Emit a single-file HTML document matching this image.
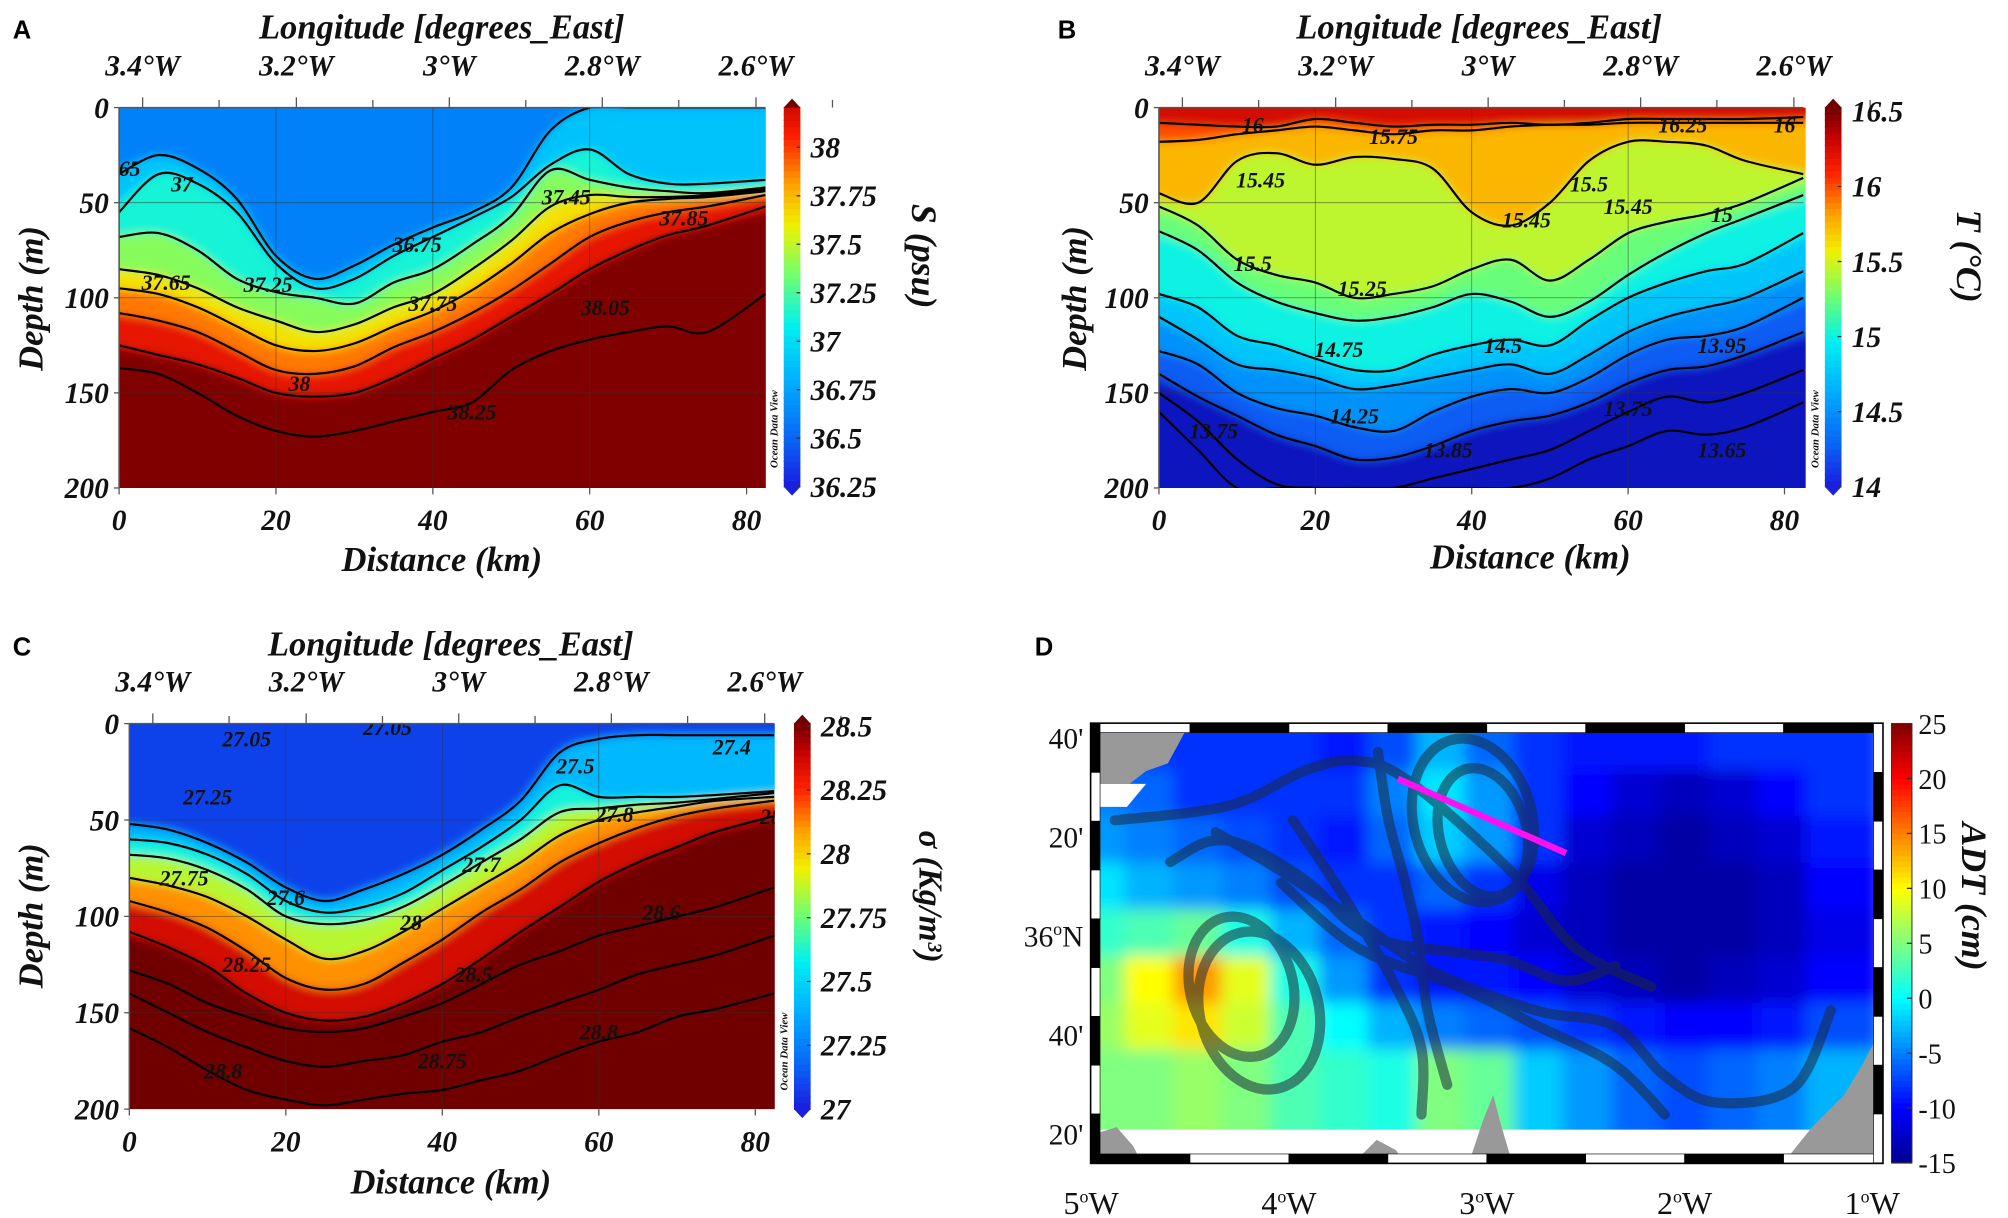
<!DOCTYPE html>
<html><head><meta charset="utf-8"><style>
html,body{margin:0;padding:0;background:#fff;}
svg{display:block;}
.t{font-family:"Liberation Serif",serif;font-style:italic;font-weight:bold;fill:#111;}
.r{font-family:"Liberation Serif",serif;fill:#111;}
.l{font-family:"Liberation Sans",sans-serif;font-weight:bold;fill:#000;}
</style></head><body>
<svg id="fig" xmlns="http://www.w3.org/2000/svg" width="2008" height="1218" viewBox="0 0 1568 951" preserveAspectRatio="none">
<defs>
<filter id="blur" x="-5%" y="-5%" width="110%" height="110%"><feGaussianBlur stdDeviation="3.5"/></filter>
<filter id="blurD" x="-5%" y="-5%" width="110%" height="110%"><feGaussianBlur stdDeviation="6"/></filter>
<clipPath id="clipA"><rect x="93" y="84" width="505" height="297"/></clipPath>
<clipPath id="clipB"><rect x="905" y="84" width="505" height="297"/></clipPath>
<clipPath id="clipC"><rect x="101" y="565" width="504" height="301"/></clipPath>
<clipPath id="clipD"><rect x="859" y="572" width="604" height="329"/></clipPath>
</defs>
<text class="l" x="10" y="30" font-size="20">A</text>
<text class="l" x="826" y="30" font-size="20">B</text>
<text class="l" x="10" y="512" font-size="20">C</text>
<text class="l" x="808" y="512" font-size="20">D</text>
<text class="t" x="345" y="30" font-size="27" text-anchor="middle">Longitude [degrees_East]</text>
<text class="t" x="1155" y="30" font-size="27" text-anchor="middle">Longitude [degrees_East]</text>
<text class="t" x="352" y="512" font-size="27" text-anchor="middle">Longitude [degrees_East]</text>
<text class="t" x="345" y="446" font-size="27" text-anchor="middle">Distance (km)</text>
<text class="t" x="1195" y="444" font-size="27" text-anchor="middle">Distance (km)</text>
<text class="t" x="352" y="932" font-size="27" text-anchor="middle">Distance (km)</text>
<text class="t" font-size="27" text-anchor="middle" transform="translate(33,233) rotate(-90)">Depth (m)</text>
<text class="t" font-size="27" text-anchor="middle" transform="translate(848,233) rotate(-90)">Depth (m)</text>
<text class="t" font-size="27" text-anchor="middle" transform="translate(33,715) rotate(-90)">Depth (m)</text>
<text class="t" font-size="28" text-anchor="middle" transform="translate(712,200) rotate(90)">S (psu)</text>
<text class="t" font-size="28" text-anchor="middle" transform="translate(1528,200) rotate(90)">T (°C)</text>
<text class="t" font-size="26" text-anchor="middle" transform="translate(718,700) rotate(90)">σ (Kg/m³)</text>
<text class="t" font-size="28" text-anchor="middle" transform="translate(1532,700) rotate(90)">ADT (cm)</text>
<g id="root"></g>
</svg>
<script>
// ---------- data ----------
const dist = [0,5,10,15,20,25,30,35,40,45,50,55,60,65,70,75,82.4];
const lonTickKm = [3.0,22.6,42.1,61.6,81.2];
const lonTickLabels = ["3.4°W","3.2°W","3°W","2.8°W","2.6°W"];
const depthTicks = [0,50,100,150,200];
const distTicks = [0,20,40,60,80];

// Panel A salinity
const levelsA = [36.75,37.0,37.25,37.5,37.75,38.0,38.25];
const depthsA = [
 [35,25,32,48,78,90,83,72,63,55,42,12,0,0,0,0,0],
 [55,35,40,55,82,95,90,78,68,58,47,30,22,35,40,40,38],
 [68,66,75,90,97,100,103,92,85,72,57,33,38,42,44,45,42],
 [85,88,95,105,112,118,114,105,98,85,70,52,46,47,47,46,43],
 [95,98,105,115,125,128,124,115,107,96,82,66,56,50,48,47,44],
 [108,112,118,128,138,140,136,126,118,108,96,82,68,60,55,52,46],
 [125,130,135,142,150,152,150,142,132,122,110,98,85,75,67,62,52]];
const extraA = [[137,140,150,162,170,173,170,165,160,155,138,128,122,118,115,118,98]];
const labelsA = [["36.75",38,72],["37",8,40],["37.25",19,93],["37.65",6,92],["37.45",57,47],["37.75",40,103],["37.85",72,58],["38.05",62,105],["38",23,145],["38.25",45,160],[".65",1,32]];
const cbTicksA = [36.25,36.5,36.75,37,37.25,37.5,37.75,38];

// Panel B temperature
const levelsB = [16.0,15.75,15.45,15.25,15.0,14.75,14.5,14.25,14.0];
const depthsB = [
 [8,9,10,10,6,8,10,9,9,8,9,8,6,6,6,6,5],
 [18,17,14,12,10,12,14,12,12,10,9,9,8,8,8,8,8],
 [45,50,28,24,30,26,27,32,55,62,50,28,18,18,20,28,35],
 [52,62,80,88,92,100,98,94,85,80,91,80,66,60,56,50,37],
 [65,75,92,102,108,112,110,105,98,102,110,102,88,76,66,58,46],
 [98,105,120,125,132,138,138,130,125,122,125,112,100,92,86,82,66],
 [110,122,135,138,142,148,146,142,138,135,140,130,118,110,105,100,86],
 [128,135,150,158,162,168,170,160,152,148,150,142,130,122,120,115,100],
 [140,152,162,172,178,185,184,178,170,165,162,155,145,138,136,130,118]];
const extraB = [[150,165,185,198,200,200,200,195,190,185,180,170,160,152,155,150,138],[160,180,200,200,200,200,200,200,200,200,195,185,178,170,172,168,155]];
const labelsB = [["16",12,9],["15.75",30,15],["16.25",67,9],["16",80,9],["15.45",13,38],["15.5",12,82],["15.25",26,95],["15.45",47,59],["15.5",55,40],["15.45",60,52],["15",72,56],["14.75",23,127],["14.5",44,125],["14.25",25,162],["13.95",72,125],["13.75",60,158],["13.85",37,180],["13.65",72,180],["13.75",7,170]];
const cbTicksB = [14,14.5,15,15.5,16,16.5];

// Panel C density
const levelsC = [27.3,27.5,27.75,28.0,28.25,28.45];
const depthsC = [
 [52,55,62,72,85,92,86,78,68,55,40,15,8,6,6,6,6],
 [60,62,68,78,92,98,95,88,76,64,50,32,38,38,38,37,35],
 [68,70,76,86,100,104,102,95,84,72,60,46,44,42,41,39,36],
 [80,84,90,100,112,122,118,108,96,84,72,58,50,46,43,40,38],
 [92,98,106,118,132,138,135,124,112,98,86,72,62,54,48,44,40],
 [108,116,126,140,150,154,152,145,135,122,108,95,82,72,64,56,48]];
const extraC = [[128,135,145,152,158,160,158,152,145,135,125,118,110,105,100,95,85],[140,150,160,168,175,178,175,172,165,160,152,145,138,130,125,120,110],[158,168,180,190,195,198,195,192,190,185,180,172,165,160,152,148,140]];
const labelsC = [["27.05",15,8],["27.05",33,2],["27.4",77,12],["27.25",10,38],["27.5",57,22],["27.8",62,47],["27.7",45,73],["27.6",20,90],["27.75",7,80],["28",36,103],["28.25",15,125],["28.5",44,130],["28.6",68,98],["28.8",60,160],["28.75",40,175],["28.8",12,180],["28",82,48]];
const cbTicksC = [27,27.25,27.5,27.75,28,28.25,28.5];

// Panel D ADT grid (rows north->south, cols west->east)
const adtGrid = [
 [-8,-8,-8,-8,-8,-9,-7,-3,-6,-8,-9,-9,-9,-8,-8,-8],
 [-5,-6,-8,-8,-8,-8,-5,-1,-4,-8,-10,-12,-13,-12,-10,-8],
 [-4,-5,-6,-7,-8,-9,-6,-2,-4,-8,-12,-13,-14,-13,-12,-9],
 [-1,-3,-4,-5,-7,-8,-8,-6,-8,-11,-13,-14,-14,-14,-13,-10],
 [2,3,4,1,-3,-6,-8,-9,-10,-12,-13,-14,-14,-14,-13,-11],
 [5,10,14,9,1,-4,-8,-9,-9,-10,-12,-13,-14,-13,-12,-10],
 [6,9,11,8,3,0,-3,-5,-6,-7,-8,-9,-10,-10,-9,-7],
 [5,5,6,5,3,2,1,5,4,-2,-4,-6,-7,-6,-5,-3]];
const gridLon0 = -4.955, gridLonStep = 0.246, gridLat0 = 36.64, gridLatStep = 0.157;
const lonTicksD = [-5,-4,-3,-2,-1];
const lonLabelsD = ["5","4","3","2","1"];
const latTicksD = [36.667,36.333,36.0,35.667,35.333];
const latLabelsD = ["40'","20'","36","40'","20'"];
const cbTicksD = [-15,-10,-5,0,5,10,15,20,25];
const trajLon = [
 [-4.37,-4.04,-3.65,-3.27,-2.75,-2.36,-2.10,-1.84,-1.45,-1.26],
 [-4.88,-4.30,-3.91,-3.65,-3.39,-2.88,-2.55,-2.17],
 [-3.98,-3.72,-3.46,-3.33,-3.33],
 [-4.04,-3.65,-3.14,-2.75,-2.36,-2.10],
 [-4.6,-4.4,-4.2,-3.9,-3.7,-3.5,-3.2,-2.9,-2.6,-2.35],
 [-3.55,-3.5,-3.42,-3.35,-3.3,-3.2]];
const trajLat = [
 [36.35,36.22,36.05,35.88,35.75,35.70,35.53,35.44,35.49,35.75],
 [36.39,36.44,36.56,36.59,36.52,36.22,35.96,35.83],
 [36.39,36.13,35.83,35.62,35.40],
 [36.18,35.96,35.83,35.70,35.57,35.40],
 [36.25,36.32,36.30,36.18,36.05,35.98,35.95,35.92,35.85,35.90],
 [36.62,36.4,36.2,36.0,35.75,35.5]];
const eddyLon = [-4.24,-4.15,-3.07,-3.02];
const eddyLat = [35.83,35.75,36.39,36.35];
const eddyRx = [0.26,0.3,0.3,0.22];
const eddyRy = [0.24,0.27,0.28,0.22];
const sectionLon = [-3.45,-2.6];
const sectionLat = [36.53,36.28];

// ---------- helpers ----------
const NS = "http://www.w3.org/2000/svg";
const root = document.getElementById("root");
function mk(tag, attrs, parent){const e=document.createElementNS(NS,tag);for(const k in attrs)e.setAttribute(k,attrs[k]);(parent||root).appendChild(e);return e;}
const odvStops=[[0,[26,32,224]],[0.1,[10,96,245]],[0.25,[0,176,255]],[0.38,[0,240,240]],[0.5,[112,255,112]],[0.62,[240,240,0]],[0.72,[255,160,0]],[0.83,[255,32,0]],[0.93,[192,0,0]],[1,[112,0,0]]];
const jetStops=[[0,[0,0,143]],[0.125,[0,0,255]],[0.375,[0,255,255]],[0.625,[255,255,0]],[0.875,[255,0,0]],[1,[128,0,0]]];
function cmap(t,stops){ if(t<0){return t<-0.05?"rgb(10,12,150)":"rgb(16,20,190)";} t=Math.min(1,t);
 for(let i=1;i<stops.length;i++){if(t<=stops[i][0]){const a=stops[i-1],b=stops[i];const f=(t-a[0])/(b[0]-a[0]);const c=a[1].map((v,j)=>Math.round(v+(b[1][j]-v)*f));return `rgb(${c})`;}} return `rgb(${stops[stops.length-1][1]})`;}
function smooth(p){let d=`M${p[0][0].toFixed(1)},${p[0][1].toFixed(1)}`;for(let i=0;i<p.length-1;i++){const p0=p[Math.max(0,i-1)],p1=p[i],p2=p[i+1],p3=p[Math.min(p.length-1,i+2)];
 const c1=[p1[0]+(p2[0]-p0[0])/6,p1[1]+(p2[1]-p0[1])/6],c2=[p2[0]-(p3[0]-p1[0])/6,p2[1]-(p3[1]-p1[1])/6];d+=`C${c1[0].toFixed(1)},${c1[1].toFixed(1)} ${c2[0].toFixed(1)},${c2[1].toFixed(1)} ${p2[0].toFixed(1)},${p2[1].toFixed(1)}`;}return d;}

function section(P){
 const X=km=>P.x0+km*P.kmPx, Y=m=>P.y0+m*P.mPx, C=v=>cmap((v-P.vmin)/(P.vmax-P.vmin),odvStops);
 const xR=X(dist[dist.length-1]), yB=Y(200);
 const g=mk("g",{"clip-path":`url(#${P.clip})`});
 
 
 const fg=mk("g",{filter:"url(#blur)"},g);
 const base=mk("rect",{x:P.x0-10,y:P.y0-10,width:xR-P.x0+20,height:yB-P.y0+20,fill:C(P.top)},fg);
 
 
 P.levels.forEach((lv,i)=>{const pts=dist.map((d,j)=>[X(d),Y(P.depths[i][j])]);pts[0][0]-=10;pts[pts.length-1][0]+=10;
  const e=mk("path",{d:smooth(pts)+`L${xR+10},${yB+10}L${P.x0-10},${yB+10}Z`,fill:C(lv+P.dir*P.off)},fg);
  
  });
 [20,40,60].forEach(k=>{const e=mk("line",{x1:X(k),x2:X(k),y1:P.y0,y2:yB,stroke:"#333","stroke-width":0.6,opacity:0.6},g);});
 [50,100,150].forEach(m=>{const e=mk("line",{x1:P.x0,x2:xR,y1:Y(m),y2:Y(m),stroke:"#333","stroke-width":0.6,opacity:0.6},g);});
 P.depths.concat(P.extra).forEach((arr,i)=>{const e=mk("path",{d:smooth(dist.map((d,j)=>[X(d),Y(arr[j])])),fill:"none",stroke:"#000","stroke-width":1.7},g);
  
  });
 P.labels.forEach(l=>{const e=mk("text",{x:X(l[1]),y:Y(l[2])+6,"font-size":17,class:"t","text-anchor":"middle"},g);e.textContent=l[0];
  
  });
 const ax=mk("path",{d:`M${P.x0},${P.y0}H${xR}M${P.x0},${P.y0}V${yB}`,stroke:"#555","stroke-width":1.2,fill:"none"});
 
 
 depthTicks.forEach(m=>{const t=mk("text",{x:P.x0-8,y:Y(m)+8,"font-size":23,class:"t","text-anchor":"end"});t.textContent=m;
  
  
  mk("line",{x1:P.x0-4,x2:P.x0,y1:Y(m),y2:Y(m),stroke:"#555"});});
 distTicks.forEach(k=>{const t=mk("text",{x:X(k),y:yB+33,"font-size":23,class:"t","text-anchor":"middle"});t.textContent=k;
  
  
  mk("line",{x1:X(k),x2:X(k),y1:yB,y2:yB+5,stroke:"#555"});});
 lonTickKm.forEach((k,i)=>{const t=mk("text",{x:X(k),y:P.y0-25,"font-size":23,class:"t","text-anchor":"middle"});t.textContent=lonTickLabels[i];
  
  
  mk("line",{x1:X(k),x2:X(k),y1:P.y0-8,y2:P.y0,stroke:"#555"});
  mk("line",{x1:X(k+9.75),x2:X(k+9.75),y1:P.y0-6,y2:P.y0,stroke:"#555"});});
 const cbX=P.cbX,cbW=13,yv=v=>P.cbB-(v-P.cbV0)/(P.cbV1-P.cbV0)*(P.cbB-P.cbT);
 const vTop=P.cbV0+(P.cbB-P.y0)/(P.cbB-P.cbT)*(P.cbV1-P.cbV0);
 const cg=mk("g",{});
 
 
 const N=60;for(let i=0;i<N;i++){const v0=P.cbV0+(vTop-P.cbV0)*i/N;mk("rect",{x:cbX,y:yv(v0)-(yv(P.cbV0)-yv(P.cbV0+(vTop-P.cbV0)/N))-0.5,width:cbW,height:(yv(P.cbV0)-yv(P.cbV0+(vTop-P.cbV0)/N))+1,fill:C(v0)},cg);}
 mk("path",{d:`M${cbX},${P.y0}L${cbX+cbW/2},${P.y0-7}L${cbX+cbW},${P.y0}Z`,fill:C(vTop+0.3)},cg);
 mk("path",{d:`M${cbX},${P.cbB}L${cbX+cbW/2},${P.cbB+7}L${cbX+cbW},${P.cbB}Z`,fill:C(P.cbV0)},cg);
 P.cbTicks.forEach(v=>{const t=mk("text",{x:cbX+cbW+8,y:yv(v)+8,"font-size":23,class:"t"},cg);t.setAttribute("font-weight","normal");t.textContent=v;
  
  
  mk("line",{x1:cbX+cbW-3,x2:cbX+cbW,y1:yv(v),y2:yv(v),stroke:"#333"},cg);});
 const odv=mk("text",{"font-size":8.5,class:"t",transform:`translate(${cbX-5},${P.cbB-45}) rotate(-90)`,"text-anchor":"middle"});odv.textContent="Ocean Data View";
 
 
}

section({id:"panel-a",x0:93,kmPx:6.125,y0:84,mPx:1.485,clip:"clipA",vmin:36.25,vmax:38.4,top:36.6,dir:1,off:0.12,levels:levelsA,depths:depthsA,extra:extraA,labels:labelsA,cbX:612,cbB:380,cbT:115,cbV0:36.25,cbV1:38,cbTicks:cbTicksA});
section({id:"panel-b",x0:905,kmPx:6.106,y0:84,mPx:1.485,clip:"clipB",vmin:14,vmax:16.5,top:16.25,dir:-1,off:0.02,levels:levelsB,depths:depthsB,extra:extraB,labels:labelsB,cbX:1425,cbB:380,cbT:87,cbV0:14,cbV1:16.5,cbTicks:cbTicksB});
section({id:"panel-c",x0:101,kmPx:6.11,y0:565,mPx:1.505,clip:"clipC",vmin:27,vmax:28.5,top:27.08,dir:1,off:0.1,levels:levelsC,depths:depthsC,extra:extraC,labels:labelsC,cbX:620,cbB:866,cbT:567,cbV0:27,cbV1:28.5,cbTicks:cbTicksC});

// ---------- panel D map ----------
(function(){
 const LX=lon=>852+(lon+5)*154.5, LY=lat=>731-(lat-36)*232;
 const CD=v=>cmap((v+15)/40,jetStops);
 const g=mk("g",{"clip-path":"url(#clipD)"});
 
 
 const fg=mk("g",{filter:"url(#blurD)"},g);
 const last=adtGrid.length-1;
 adtGrid.forEach((row,r)=>row.forEach((v,c)=>{
  const x=LX(gridLon0+c*gridLonStep), y=LY(gridLat0-r*gridLatStep);
  const e=mk("rect",{x:x-gridLonStep*154.5/2-(c==0?20:0),y:y-gridLatStep*232/2-(r==0?20:0),width:gridLonStep*154.5+(c==0||c==row.length-1?20:0)+1,height:gridLatStep*232+(r==0?20:0)+(r==last?45:0)+1,fill:CD(v)},fg);
  
  }));
 const w=mk("path",{d:"M859,882H1463V905H859Z M859,612H895L880,630H859Z",fill:"#fff"},g);
 
 
 const land=mk("path",{d:"M859,572H925L912,596L895,602L882,612H859Z M859,884L872,880L885,895L890,905H859Z M1148,905L1158,875L1166,855L1172,878L1180,905Z M1395,905L1415,880L1440,855L1455,830L1463,815V905Z M1060,905L1075,890L1090,898L1095,905Z",fill:"#999"},g);
 
 
 const tg=mk("g",{opacity:0.55,stroke:"#1c2a3a","stroke-width":8,fill:"none","stroke-linecap":"round"},g);
 
 
 trajLon.forEach((lons,i)=>{const e=mk("path",{d:smooth(lons.map((l,j)=>[LX(l),LY(trajLat[i][j])]))},tg);
  
  });
 eddyLon.forEach((l,i)=>{const e=mk("ellipse",{cx:LX(l),cy:LY(eddyLat[i]),rx:eddyRx[i]*154.5,ry:eddyRy[i]*232,transform:`rotate(-15 ${LX(l)} ${LY(eddyLat[i])})`},tg);
  
  });
 const sl=mk("line",{x1:LX(sectionLon[0]),y1:LY(sectionLat[0]),x2:LX(sectionLon[1]),y2:LY(sectionLat[1]),stroke:"#ff10f0","stroke-width":5},g);
 
 
 const fr=mk("g",{});
 
 
 mk("rect",{x:852,y:565,width:618,height:343,fill:"none",stroke:"#000","stroke-width":2},fr);
 for(let i=0;i<8;i++){const x=852+i*77.25;
  mk("rect",{x:x,y:565,width:77.25,height:7,fill:i%2?"#000":"#fff",stroke:"#000","stroke-width":0.5},fr);
  mk("rect",{x:x,y:901,width:77.25,height:7,fill:i%2?"#fff":"#000",stroke:"#000","stroke-width":0.5},fr);}
 for(let i=0;i<9;i++){const y=565+i*38.1;
  mk("rect",{x:852,y:y,width:7,height:38.1,fill:i%2?"#fff":"#000",stroke:"#000","stroke-width":0.5},fr);
  mk("rect",{x:1463,y:y,width:7,height:38.1,fill:i%2?"#000":"#fff",stroke:"#000","stroke-width":0.5},fr);}
 lonTicksD.forEach((l,i)=>{const t=mk("text",{x:LX(l)+(i==4?-8:0),y:948,"font-size":25,class:"r","text-anchor":"middle"});
  t.innerHTML=lonLabelsD[i]+'<tspan dy="-9" font-size="14">o</tspan><tspan dy="9">W</tspan>';
  
  });
 latTicksD.forEach((l,i)=>{const t=mk("text",{x:846,y:LY(l)+8,"font-size":23,class:"r","text-anchor":"end"});
  if(i==2)t.innerHTML='36<tspan dy="-9" font-size="14">o</tspan><tspan dy="9">N</tspan>';else t.textContent=latLabelsD[i];
  
  });
 const cg=mk("g",{});
 
 
 const yv=v=>908-(v+15)/40*343;
 for(let i=0;i<80;i++){const v=-15+40*i/80;mk("rect",{x:1477,y:yv(v+0.5)-0.5,width:16,height:343/80+1,fill:CD(v+0.25)},cg);}
 mk("rect",{x:1477,y:565,width:16,height:343,fill:"none",stroke:"#333","stroke-width":0.8},cg);
 cbTicksD.forEach(v=>{const t=mk("text",{x:1498,y:yv(v)+8,"font-size":22,class:"r"},cg);t.textContent=v;
  
  
  mk("line",{x1:1489,x2:1493,y1:yv(v),y2:yv(v),stroke:"#333"},cg);});
})();
</script>
</body></html>
